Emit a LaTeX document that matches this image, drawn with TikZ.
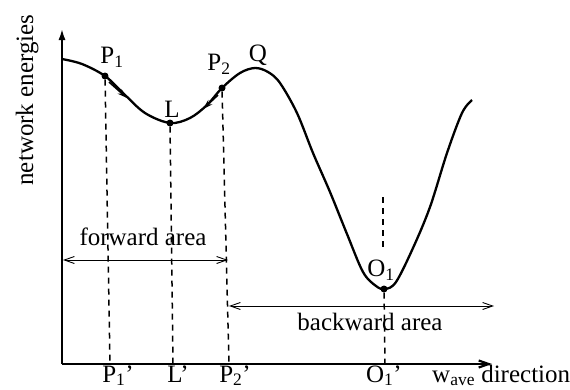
\documentclass[tikz,border=0pt]{standalone}
\usepackage{fontspec}
\setmainfont{Liberation Serif}
\usetikzlibrary{arrows.meta}
\begin{document}
\begin{tikzpicture}[x=1pt,y=-1pt,
  lbl/.style={font=\fontsize{25}{28}\selectfont, inner sep=0pt},
  axisline/.style={line width=2.6pt},
  curveline/.style={line width=2.3pt},
  guide/.style={line width=1.5pt, dash pattern=on 6pt off 5pt},
  span/.style={line width=0.9pt, {Straight Barb[length=10pt,width=7pt]}-{Straight Barb[length=10pt,width=7pt]}},
  dot/.style={circle, fill=black, inner sep=0pt, minimum size=7pt},
  curvearrow/.style={line width=1.6pt, -{Stealth[length=10pt,width=6pt]}}
]
\useasboundingbox (0,0) rectangle (570,389);
% axes
\coordinate (orig) at (62,364);
\coordinate (ytip) at (62,28);
\coordinate (xtip) at (492,364);
\draw[axisline, -{Latex[length=12pt,width=7pt]}] (orig) -- (ytip);
\draw[line width=2.2pt, -{Straight Barb[length=10pt,width=7pt]}] (orig) -- (xtip);
% curve
\draw[curveline] plot[smooth, tension=0.55] coordinates {
 (62,59) (82,64) (105,76) (123,93) (145,113) (170,123) (190,118) (207,105)
 (222,88) (240,73) (255,68) (268,72) (280,83) (297,113) (313,153) (330,192)
 (347,234) (363,272) (376,286) (385,289) (396,282) (413,248) (430,207)
 (447,153) (462,113) (472,100)};
% points
\node[dot] (P1) at (105,76) {};
\node[dot] (L) at (170,123) {};
\node[dot] (P2) at (222,88) {};
\node[dot] (O1) at (384,289) {};
% small arrows on curve
\coordinate (a1s) at (109,82);
\coordinate (a1e) at (127,98);
\coordinate (a2s) at (218,95);
\coordinate (a2e) at (203,109);
\draw[curvearrow] (a1s) -- (a1e);
\draw[curvearrow] (a2s) -- (a2e);
% axis feet
\coordinate (P1f) at (110,364);
\coordinate (Lf) at (173,364);
\coordinate (P2f) at (229,364);
\coordinate (O1f) at (385,364);
\coordinate (O1t) at (383,197);
\coordinate (O1m) at (383,250);
\draw[guide] (P1) -- (P1f);
\draw[guide] (L) -- (Lf);
\draw[guide] (P2) -- (P2f);
\draw[guide] (O1t) -- (O1m);
\draw[guide] (O1) -- (O1f);
% area arrows
\coordinate (fa) at (63,260);
\coordinate (fb) at (228,260);
\coordinate (ba) at (229,306);
\coordinate (bb) at (494,306);
\draw[span] (fa) -- (fb);
\draw[span] (ba) -- (bb);
% labels
\node[lbl] (tP1) at (112,57) {P\textsubscript{1}};
\node[lbl] (tP2) at (219,64) {P\textsubscript{2}};
\node[lbl] (tQ) at (258,55) {Q};
\node[lbl] (tL) at (172,109) {L};
\node[lbl] (tO1) at (381,270) {O\textsubscript{1}};
\node[lbl, anchor=base] (tfwd) at (143,245) {forward area};
\node[lbl, anchor=base] (tbwd) at (370,330) {backward area};
\node[lbl, anchor=base] (tP1p) at (118,382) {P\textsubscript{1}’};
\node[lbl, anchor=base] (tLp) at (178,382) {L’};
\node[lbl, anchor=base] (tP2p) at (235,382) {P\textsubscript{2}’};
\node[lbl, anchor=base] (tO1p) at (384,382) {O\textsubscript{1}’};
\node[lbl, anchor=base west] (tdir) at (432,382) {w\textsubscript{ave} direction};
\node[lbl, anchor=base, rotate=90] (tne) at (33,100) {network energies};
\end{tikzpicture}
\end{document}
